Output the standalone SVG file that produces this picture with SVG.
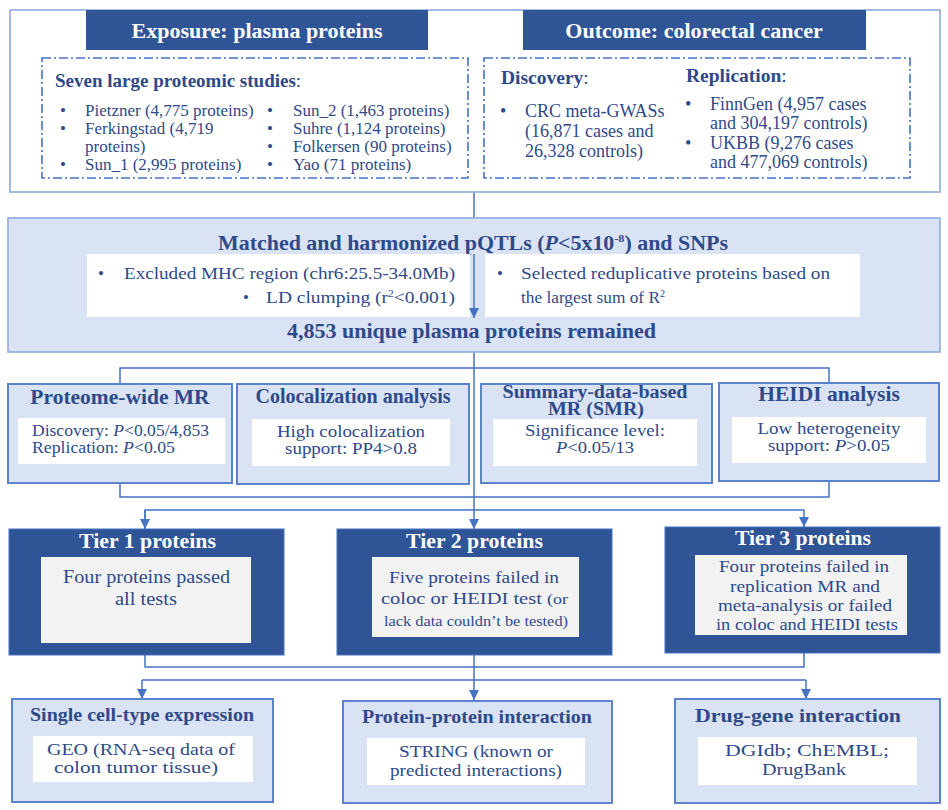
<svg xmlns="http://www.w3.org/2000/svg" width="948" height="810" viewBox="0 0 948 810">
<style>
text{font-family:"Liberation Serif","Times New Roman",serif;fill:#2e4a8a}
.b{font-weight:bold}
.w{fill:#ffffff;font-weight:bold}
.hd{fill:#2f5597}
.dash{fill:none;stroke:#4472c4;stroke-width:1.6;stroke-dasharray:9,3,2,3}
.lb{fill:#dae3f3;stroke:#5b83cc;stroke-width:2}
.wb{fill:#ffffff}
.gb{fill:#f2f2f2}
.tier{fill:#2f5597;stroke:#4472c4;stroke-width:1}
.ln{fill:none;stroke:#4472c4;stroke-width:1.5}
.c{text-anchor:middle}
.it{font-style:italic}
</style>
<defs>
<marker id="ah" viewBox="0 0 10 10" refX="10" refY="5" markerWidth="10" markerHeight="10" markerUnits="userSpaceOnUse" orient="auto">
<path d="M0,0 L10,5 L0,10 z" fill="#4472c4"/>
</marker>
</defs>

<g id="connectors">
<line class="ln" x1="474" y1="192" x2="474" y2="218"/>
<line class="ln" x1="474" y1="352" x2="474" y2="529" marker-end="url(#ah)"/>
<rect class="ln" x="120" y="368" width="709" height="129"/>
<polyline class="ln" points="145,529 145,510 804,510 804,527" marker-end="url(#ah)"/>
<line class="ln" x1="145" y1="510" x2="145" y2="529" marker-end="url(#ah)"/>
<polyline class="ln" points="145,655 145,667 804,667 804,653"/>
<line class="ln" x1="474" y1="655" x2="474" y2="700" marker-end="url(#ah)"/>
<line class="ln" x1="142" y1="680" x2="806" y2="680"/>
<line class="ln" x1="142" y1="680" x2="142" y2="699" marker-end="url(#ah)"/>
<line class="ln" x1="806" y1="680" x2="806" y2="699" marker-end="url(#ah)"/>
</g>

<g id="top">
<rect x="10" y="10" width="930" height="182" fill="#ffffff" stroke="#8faadc" stroke-width="1.6"/>
</g>

<g id="exposure">
<rect class="hd" x="86" y="10" width="342" height="40"/>
<text class="w c" x="257" y="38" font-size="22">Exposure: plasma proteins</text>
<rect class="dash" x="42" y="58" width="426" height="120"/>
<text x="55" y="87" font-size="19"><tspan class="b">Seven large proteomic studies</tspan>:</text>
<g font-size="17">
<text x="60" y="116">•</text><text x="85" y="116">Pietzner (4,775 proteins)</text>
<text x="60" y="134">•</text><text x="85" y="134">Ferkingstad (4,719</text>
<text x="85" y="152">proteins)</text>
<text x="60" y="170">•</text><text x="85" y="170">Sun_1 (2,995 proteins)</text>
<text x="267" y="116">•</text><text x="293" y="116">Sun_2 (1,463 proteins)</text>
<text x="267" y="134">•</text><text x="293" y="134">Suhre (1,124  proteins)</text>
<text x="267" y="152">•</text><text x="293" y="152">Folkersen (90 proteins)</text>
<text x="267" y="170">•</text><text x="293" y="170">Yao (71 proteins)</text>
</g>
</g>

<g id="outcome">
<rect class="hd" x="523" y="10" width="343" height="40"/>
<text class="w c" x="694" y="38" font-size="22">Outcome: colorectal cancer</text>
<rect class="dash" x="484" y="58" width="426" height="120"/>
<text x="501" y="84" font-size="19.5"><tspan class="b">Discovery</tspan>:</text>
<text x="686" y="82" font-size="19.5"><tspan class="b">Replication</tspan>:</text>
<g font-size="18">
<text x="500" y="117">•</text><text x="525" y="117">CRC meta-GWASs</text>
<text x="525" y="137">(16,871 cases and</text>
<text x="525" y="157">26,328 controls)</text>
<text x="685" y="110">•</text><text x="710" y="110">FinnGen (4,957 cases</text>
<text x="710" y="129">and 304,197 controls)</text>
<text x="685" y="149">•</text><text x="710" y="149"> UKBB (9,276 cases</text>
<text x="710" y="168">and 477,069 controls)</text>
</g>
</g>

<g id="pqtl">
<rect x="8" y="218" width="932" height="134" fill="#dae3f3" stroke="#8faadc" stroke-width="1.6"/>
<text class="b" x="218" y="250" font-size="20" textLength="510" lengthAdjust="spacingAndGlyphs">Matched and harmonized pQTLs (<tspan class="it">P</tspan>&lt;5x10<tspan font-size="11" dy="-8">-8</tspan><tspan dy="8">) and SNPs</tspan></text>
<rect class="wb" x="87" y="254" width="383" height="63"/>
<rect class="wb" x="485" y="254" width="375" height="63"/>
<line class="ln" x1="474" y1="254" x2="474" y2="318" marker-end="url(#ah)"/>
<g font-size="17">
<text x="98" y="279">•</text>
<text x="124" y="279" textLength="331" lengthAdjust="spacingAndGlyphs">Excluded MHC region (chr6:25.5-34.0Mb)</text>
<text x="243" y="303">•</text>
<text x="266" y="303" textLength="189" lengthAdjust="spacingAndGlyphs">LD clumping (r<tspan font-size="10" dy="-6">2</tspan><tspan dy="6">&lt;0.001)</tspan></text>
<text x="497" y="279">•</text>
<text x="521" y="279" textLength="309" lengthAdjust="spacingAndGlyphs">Selected reduplicative proteins based on</text>
<text x="521" y="303" textLength="144" lengthAdjust="spacingAndGlyphs">the largest sum of R<tspan font-size="10" dy="-6">2</tspan></text>
</g>
<text class="b" x="287" y="338" font-size="20" textLength="369" lengthAdjust="spacingAndGlyphs">4,853 unique plasma proteins remained</text>
</g>

<g id="mr">
<rect class="lb" x="8" y="384" width="224" height="99"/>
<text class="b c" x="120" y="404" font-size="21.5">Proteome-wide MR</text>
<rect class="wb" x="18" y="418" width="207" height="46"/>
<text x="32" y="436" font-size="16" textLength="177" lengthAdjust="spacingAndGlyphs">Discovery: <tspan class="it">P</tspan>&lt;0.05/4,853</text>
<text x="32" y="453" font-size="16" textLength="143" lengthAdjust="spacingAndGlyphs">Replication: <tspan class="it">P</tspan>&lt;0.05</text>
</g>

<g id="coloc">
<rect class="lb" x="237" y="384" width="232" height="100"/>
<text class="b c" x="353" y="403" font-size="20" textLength="195" lengthAdjust="spacingAndGlyphs">Colocalization analysis</text>
<rect class="wb" x="252" y="419" width="198" height="47"/>
<text class="c" x="351" y="437" font-size="16.5" textLength="148" lengthAdjust="spacingAndGlyphs">High colocalization</text>
<text class="c" x="351" y="454" font-size="16.5" textLength="132" lengthAdjust="spacingAndGlyphs">support: PP4&gt;0.8</text>
</g>

<g id="smr">
<rect class="lb" x="481" y="384" width="231" height="99"/>
<text class="b c" x="595" y="398" font-size="18" textLength="185" lengthAdjust="spacingAndGlyphs">Summary-data-based</text>
<text class="b c" x="596" y="415" font-size="18" textLength="96" lengthAdjust="spacingAndGlyphs">MR (SMR)</text>
<rect class="wb" x="493" y="419" width="204" height="47"/>
<text class="c" x="595" y="436" font-size="16.5" textLength="140" lengthAdjust="spacingAndGlyphs">Significance level:</text>
<text class="c" x="595" y="453" font-size="16.5" textLength="78" lengthAdjust="spacingAndGlyphs"><tspan class="it">P</tspan>&lt;0.05/13</text>
</g>

<g id="heidi">
<rect class="lb" x="719" y="383" width="220" height="98"/>
<text class="b c" x="829" y="401" font-size="21.5">HEIDI analysis</text>
<rect class="wb" x="732" y="417" width="194" height="46"/>
<text class="c" x="829" y="434" font-size="16.5" textLength="143" lengthAdjust="spacingAndGlyphs">Low heterogeneity</text>
<text class="c" x="829" y="451" font-size="16.5" textLength="122" lengthAdjust="spacingAndGlyphs">support: <tspan class="it">P</tspan>&gt;0.05</text>
</g>

<g id="tier1">
<rect class="tier" x="9" y="529" width="275" height="126"/>
<text class="w" x="79" y="548" font-size="20" textLength="137" lengthAdjust="spacingAndGlyphs">Tier 1 proteins</text>
<rect class="gb" x="41" y="557" width="210" height="86"/>
<text x="63" y="583" font-size="18" textLength="167" lengthAdjust="spacingAndGlyphs">Four proteins passed</text>
<text x="115" y="605" font-size="18" textLength="62" lengthAdjust="spacingAndGlyphs">all tests</text>
</g>

<g id="tier2">
<rect class="tier" x="337" y="529" width="275" height="126"/>
<text class="w" x="406" y="548" font-size="20" textLength="137" lengthAdjust="spacingAndGlyphs">Tier 2 proteins</text>
<rect class="gb" x="372" y="557" width="207" height="80"/>
<text x="389" y="583" font-size="17" textLength="170" lengthAdjust="spacingAndGlyphs">Five proteins failed in</text>
<text x="381" y="604" font-size="17" textLength="187" lengthAdjust="spacingAndGlyphs">coloc or HEIDI test <tspan font-size="15">(or</tspan></text>
<text x="384" y="626" font-size="15" textLength="184" lengthAdjust="spacingAndGlyphs">lack data couldn’t be tested)</text>
</g>

<g id="tier3">
<rect class="tier" x="665" y="527" width="275" height="126"/>
<text class="w" x="735" y="545" font-size="20" textLength="136" lengthAdjust="spacingAndGlyphs">Tier 3 proteins</text>
<rect class="gb" x="695" y="555" width="212" height="80"/>
<text x="719" y="572" font-size="17" textLength="170" lengthAdjust="spacingAndGlyphs">Four proteins failed in</text>
<text x="730" y="592" font-size="17" textLength="150" lengthAdjust="spacingAndGlyphs">replication MR and</text>
<text x="718" y="611" font-size="17" textLength="174" lengthAdjust="spacingAndGlyphs">meta-analysis or failed</text>
<text x="716" y="630" font-size="17" textLength="182" lengthAdjust="spacingAndGlyphs">in coloc and HEIDI tests</text>
</g>

<g id="singlecell">
<rect class="lb" x="12" y="699" width="261" height="103"/>
<text class="b" x="30" y="721" font-size="19" textLength="224" lengthAdjust="spacingAndGlyphs">Single cell-type expression</text>
<rect class="wb" x="33" y="736" width="220" height="46"/>
<text x="47" y="755" font-size="17" textLength="188" lengthAdjust="spacingAndGlyphs">GEO (RNA-seq data of</text>
<text x="54" y="773" font-size="17" textLength="164" lengthAdjust="spacingAndGlyphs">colon tumor tissue)</text>
</g>

<g id="ppi">
<rect class="lb" x="343" y="701" width="269" height="102"/>
<text class="b" x="362" y="723" font-size="19" textLength="230" lengthAdjust="spacingAndGlyphs">Protein-protein interaction</text>
<rect class="wb" x="367" y="738" width="218" height="47"/>
<text x="399" y="757" font-size="17" textLength="154" lengthAdjust="spacingAndGlyphs">STRING (known or</text>
<text x="390" y="776" font-size="17" textLength="172" lengthAdjust="spacingAndGlyphs">predicted interactions)</text>
</g>

<g id="druggene">
<rect class="lb" x="675" y="699" width="265" height="104"/>
<text class="b" x="695" y="722" font-size="19" textLength="206" lengthAdjust="spacingAndGlyphs">Drug-gene interaction</text>
<rect class="wb" x="698" y="737" width="219" height="48"/>
<text x="725" y="756" font-size="17" textLength="164" lengthAdjust="spacingAndGlyphs">DGIdb; ChEMBL;</text>
<text x="762" y="775" font-size="17" textLength="84" lengthAdjust="spacingAndGlyphs">DrugBank</text>
</g>
</svg>
